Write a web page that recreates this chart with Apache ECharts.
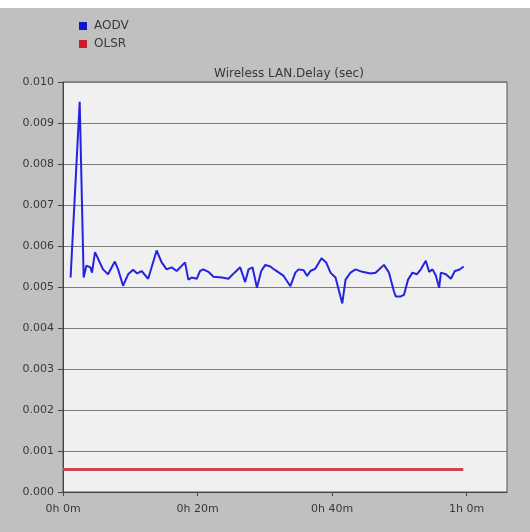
<!DOCTYPE html>
<html>
<head>
<meta charset="utf-8">
<script src="https://cdn.jsdelivr.net/npm/echarts@6/dist/echarts.min.js"></script>
<style>
  html, body { margin: 0; padding: 0; background: #fff; }
  #chart { width: 530px; height: 532px; }
</style>
</head>
<body>
<div id="chart"></div>
<script>
// time in minutes, delay in seconds
const aodvTimes = [
  1.13, 2.48, 3.07, 3.47, 4.07, 4.31, 4.76, 5.35, 5.95, 6.70,
  7.70, 8.19, 8.93, 9.68, 10.42, 11.02, 11.68, 12.66, 13.92, 14.66,
  15.41, 16.15, 16.90, 18.14, 18.63, 19.13, 19.88, 20.36, 20.86, 21.61,
  22.36, 23.61, 24.59, 25.49, 26.34, 27.08, 27.58, 28.17, 28.83, 29.47,
  30.07, 30.81, 31.56, 32.80, 33.80, 34.54, 35.03, 35.78, 36.29, 36.78,
  37.52, 38.42, 39.12, 39.76, 40.51, 41.51, 42.00, 42.74, 43.49, 44.49,
  45.73, 46.47, 47.71, 48.46, 49.20, 49.46, 50.20, 50.69, 51.29, 51.95,
  52.59, 53.19, 53.93, 54.42, 54.93, 55.42, 55.91, 56.17, 56.91, 57.66,
  58.25, 58.90, 59.56
];
const aodvDelay = [
  0.00523, 0.00952, 0.00523, 0.00552, 0.00548, 0.00535, 0.00585, 0.00564, 0.00543, 0.00531,
  0.00562, 0.00543, 0.00503, 0.00531, 0.00542, 0.00533, 0.00539, 0.00520, 0.00589, 0.00560,
  0.00543, 0.00548, 0.00539, 0.00560, 0.00518, 0.00523, 0.00520, 0.00539, 0.00543, 0.00537,
  0.00525, 0.00523, 0.00520, 0.00535, 0.00548, 0.00512, 0.00543, 0.00548, 0.00498, 0.00539,
  0.00554, 0.00550, 0.00541, 0.00527, 0.00502, 0.00535, 0.00543, 0.00541, 0.00527, 0.00539,
  0.00545, 0.00570, 0.00560, 0.00535, 0.00523, 0.00460, 0.00518, 0.00535, 0.00543, 0.00537,
  0.00533, 0.00535, 0.00554, 0.00535, 0.00489, 0.00477, 0.00477, 0.00481, 0.00518, 0.00535,
  0.00531, 0.00543, 0.00564, 0.00537, 0.00543, 0.00528, 0.00498, 0.00535, 0.00531, 0.00520,
  0.00539, 0.00542, 0.00550
];
const olsrTimes = [0, 59.5];
const olsrDelay = [0.00055, 0.00055];

const yTicks = [0, 0.001, 0.002, 0.003, 0.004, 0.005, 0.006, 0.007, 0.008, 0.009, 0.010];
const xTickMinutes = [0, 20, 40, 60];

const fmtTime = (m) => Math.floor(m / 60) + "h " + (m % 60) + "m";

const font = "DejaVu Sans";

const chart = echarts.init(document.getElementById("chart"));

chart.setOption({
  backgroundColor: "#c0c0c0",
  animation: false,
  title: {
    text: "Wireless LAN.Delay (sec)",
    left: 284,
    top: 63,
    textAlign: "center",
    textStyle: {
      fontFamily: font,
      fontSize: 12,
      fontWeight: "normal",
      color: "#383838",
    },
  },
  legend: {
    orient: "vertical",
    left: 74,
    top: 15,
    itemWidth: 8,
    itemHeight: 8,
    itemGap: 6,
    icon: "rect",
    textStyle: {
      fontFamily: font,
      fontSize: 12,
      color: "#383838",
      padding: [0, 0, 0, 2],
    },
    data: [
      { name: "AODV", itemStyle: { color: "#1414c8" } },
      { name: "OLSR", itemStyle: { color: "#d01c28" } },
    ],
  },
  grid: {
    left: 63,
    right: 23,
    top: 82,
    bottom: 40,
    show: true,
    backgroundColor: "#f0f0f0",
    borderColor: "#555",
    borderWidth: 1,
  },
  xAxis: {
    type: "value",
    min: 0,
    max: 66,
    interval: 20,
    axisLine: { show: true, onZero: false, lineStyle: { color: "#444" } },
    axisTick: { show: true, length: 4, lineStyle: { color: "#444" } },
    splitLine: { show: false },
    axisLabel: {
      showMaxLabel: false,
      margin: 12,
      fontFamily: font,
      fontSize: 11,
      color: "#383838",
      formatter: (v) => (xTickMinutes.includes(v) ? fmtTime(v) : ""),
    },
  },
  yAxis: {
    type: "value",
    min: 0,
    max: 0.01,
    interval: 0.001,
    axisLine: { show: true, lineStyle: { color: "#444" } },
    axisTick: { show: true, length: 5, lineStyle: { color: "#444" } },
    splitLine: { show: true, lineStyle: { color: "#7c7c7c", width: 1 } },
    axisLabel: {
      margin: 9,
      fontFamily: font,
      fontSize: 11,
      color: "#383838",
      formatter: (v) => {
        const t = yTicks.find((y) => Math.abs(y - v) < 1e-9);
        return t === undefined ? "" : t.toFixed(3);
      },
    },
  },
  graphic: [
    {
      type: "rect",
      left: 0,
      top: 0,
      shape: { width: 530, height: 8 },
      style: { fill: "#ffffff" },
      silent: true,
    },
  ],
  series: [
    {
      name: "AODV",
      type: "line",
      data: aodvTimes.map((t, i) => [t, aodvDelay[i]]),
      showSymbol: false,
      lineStyle: { color: "#2424e0", width: 2 },
      itemStyle: { color: "#1414c8" },
      z: 3,
    },
    {
      name: "OLSR",
      type: "line",
      data: olsrTimes.map((t, i) => [t, olsrDelay[i]]),
      showSymbol: false,
      lineStyle: { color: "#cc4455", width: 3 },
      itemStyle: { color: "#d01c28" },
      z: 2,
    },
  ],
});
</script>
</body>
</html>
